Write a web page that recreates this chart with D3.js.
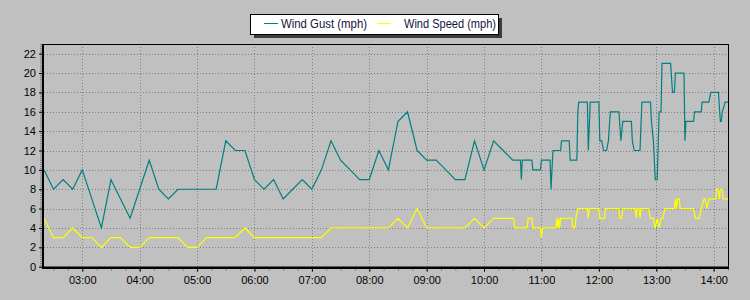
<!DOCTYPE html>
<html>
<head>
<meta charset="utf-8">
<script src="https://cdn.jsdelivr.net/npm/d3@7"></script>
<style>
body { margin:0; background:#c0c0c0; }
svg { display:block; font-family:"Liberation Sans", Arial, sans-serif; }
</style>
</head>
<body>
<div id="chart"></div>
<script>
// readings [time, mph]
var gust = [
	["02:20",10],["02:30",8],["02:40",9],["02:50",8],["03:00",10],["03:10",7],["03:20",4],["03:30",9],
	["03:40",7],["03:50",5],["04:00",8],["04:10",11],["04:20",8],["04:30",7],["04:40",8],["04:50",8],
	["05:00",8],["05:10",8],["05:20",8],["05:30",13],["05:40",12],["05:50",12],["06:00",9],["06:10",8],
	["06:20",9],["06:30",7],["06:40",8],["06:50",9],["07:00",8],["07:10",10],["07:20",13],["07:30",11],
	["07:40",10],["07:50",9],["08:00",9],["08:10",12],["08:20",10],["08:30",15],["08:40",16],["08:50",12],
	["09:00",11],["09:10",11],["09:20",10],["09:30",9],["09:40",9],["09:50",13],["10:00",10],["10:10",13],
	["10:20",12],["10:30",11],["10:38",11],["10:39",9],["10:40",11],["10:50",11],["10:51",10],["10:59",10],
	["11:00",11],["11:09",11],["11:10",8],["11:12",12],["11:20",12],["11:21",13],["11:29",13],["11:30",11],
	["11:37",11],["11:38",16],["11:39",17],["11:48",17],["11:49",12],["11:51",17],["12:00",17],["12:01",13],
	["12:03",13],["12:05",12],["12:08",12],["12:10",13],["12:12",16],["12:21",16],["12:23",13],["12:25",15],
	["12:34",15],["12:35",13],["12:37",12],["12:43",12],["12:45",17],["12:54",17],["12:55",15],["12:57",13],
	["12:59",9],["13:01",9],["13:03",16],["13:05",16],["13:06",21],["13:15",21],["13:17",18],["13:19",18],
	["13:20",20],["13:29",20],["13:30",13],["13:31",15],["13:39",15],["13:40",16],["13:47",16],["13:48",17],
	["13:55",17],["13:57",18],["14:05",18],["14:07",15],["14:08",15],["14:09",16],["14:12",17],["14:15",17]
];
var speed = [
	["02:20",5],["02:30",3],["02:40",3],["02:50",4],["03:00",3],["03:10",3],["03:20",2],["03:30",3],
	["03:40",3],["03:50",2],["04:00",2],["04:10",3],["04:20",3],["04:30",3],["04:40",3],["04:50",2],
	["05:00",2],["05:10",3],["05:20",3],["05:30",3],["05:40",3],["05:50",4],["06:00",3],["06:10",3],
	["06:20",3],["06:30",3],["06:40",3],["06:50",3],["07:00",3],["07:10",3],["07:20",4],["07:30",4],
	["07:40",4],["07:50",4],["08:00",4],["08:10",4],["08:20",4],["08:30",5],["08:40",4],["08:50",6],
	["09:00",4],["09:10",4],["09:20",4],["09:30",4],["09:40",4],["09:50",5],["10:00",4],["10:10",5],
	["10:20",5],["10:30",5],["10:31",5],["10:32",4],["10:45",4],["10:46",5],["10:50",5],["10:51",4],
	["10:59",4],["11:00",3],["11:01",4],["11:15",4],["11:16",5],["11:17",4],["11:18",5],["11:19",4],
	["11:20",5],["11:32",5],["11:33",4],["11:35",4],["11:36",5],["11:38",6],["11:48",6],["11:49",5],
	["11:50",6],["12:00",6],["12:01",5],["12:06",5],["12:07",6],["12:21",6],["12:22",5],["12:24",5],
	["12:25",6],["12:38",6],["12:39",5],["12:40",6],["12:42",6],["12:43",5],["12:44",6],["12:52",6],
	["12:54",5],["12:57",5],["12:59",4],["13:01",5],["13:03",4],["13:05",5],["13:07",5],["13:09",6],
	["13:19",6],["13:20",7],["13:21",6],["13:22",7],["13:24",7],["13:25",6],["13:39",6],["13:41",5],
	["13:45",5],["13:47",6],["13:50",7],["13:51",7],["13:53",6],["13:55",7],["14:02",7],["14:03",8],
	["14:05",8],["14:06",7],["14:07",8],["14:09",8],["14:10",7],["14:15",7]
];
var seriesNames = ["Wind Gust (mph)", "Wind Speed (mph)"];
var yTicks = [0, 2, 4, 6, 8, 10, 12, 14, 16, 18, 20, 22];
var hourTicks = ["03:00","04:00","05:00","06:00","07:00","08:00","09:00","10:00","11:00","12:00","13:00","14:00"];
var timeSpan = ["02:20", "14:15"];
var yMax = 23;

var width = 750, height = 300;
var padding = {top:44, bottom:33.3, left:44, right:22};
var parse = d3.timeParse("%H:%M");

var svg = d3.select("#chart").append("svg").attr("width", width).attr("height", height);
svg.append("rect").attr("width", width).attr("height", height).style("fill", "#c0c0c0");

var x = d3.scaleTime().domain(timeSpan.map(parse)).range([padding.left, width - padding.right]);
var y = d3.scaleLinear().domain([0, yMax]).range([height - padding.bottom, padding.top]);
var x0 = x.range()[0], x1 = x.range()[1], y0 = y.range()[0], y1 = y.range()[1];

// dotted grid
svg.append("g").selectAll("line").data(yTicks.filter(function(d){ return d > 0; })).enter()
	.append("line")
	.attr("x1", x0).attr("x2", x1)
	.attr("y1", function(d){ return Math.round(y(d)) + 0.5; })
	.attr("y2", function(d){ return Math.round(y(d)) + 0.5; })
	.style("stroke", "#808080").style("stroke-dasharray", "1,2");
svg.append("g").selectAll("line").data(hourTicks.map(parse)).enter()
	.append("line")
	.attr("x1", function(d){ return Math.round(x(d)) + 0.5; })
	.attr("x2", function(d){ return Math.round(x(d)) + 0.5; })
	.attr("y1", y1).attr("y2", y0)
	.style("stroke", "#808080").style("stroke-dasharray", "1,2");

// series
var line = d3.line()
	.x(function(d){ return x(parse(d[0])); })
	.y(function(d){ return y(d[1]); });

svg.append("path").datum(gust).attr("d", line)
	.style("fill", "none").style("stroke", "#008080").style("stroke-width", 1.2);
svg.append("path").datum(speed).attr("d", line)
	.style("fill", "none").style("stroke", "#ffff00").style("stroke-width", 1.2);

// minor ticks
var yMinor = d3.axisLeft(y).tickValues(d3.range(0, yMax + 0.01, 0.2)).tickSize(3).tickFormat("");
svg.append("g").attr("class", "minor").attr("transform", "translate(" + (x0 - 1) + ",0)").call(yMinor);
var xMinor = d3.axisBottom(x).ticks(d3.timeMinute.every(15)).tickSize(3).tickFormat("");
svg.append("g").attr("class", "minor").attr("transform", "translate(0," + (y0 + 1) + ")").call(xMinor);
svg.selectAll(".minor line").style("stroke", "#808080");
svg.selectAll(".minor .domain").remove();

// axes
var yAxis = d3.axisLeft(y).tickValues(yTicks).tickSize(4).tickPadding(3).tickSizeOuter(0);
var gy = svg.append("g").attr("transform", "translate(" + (x0 - 1) + ",0)").call(yAxis);
var xAxis = d3.axisBottom(x).tickValues(hourTicks.map(parse)).tickFormat(d3.timeFormat("%H:%M"))
	.tickSize(4).tickPadding(5).tickSizeOuter(0);
var gx = svg.append("g").attr("transform", "translate(0," + (y0 + 1) + ")").call(xAxis);
[gx, gy].forEach(function(g){
	g.select(".domain").remove();
	g.selectAll("text").style("font-size", "11px").style("fill", "#000");
	g.selectAll("line").style("stroke", "#000");
});

// frame
svg.append("line").attr("x1", x0).attr("x2", x1 + 0.5).attr("y1", y1 + 0.5).attr("y2", y1 + 0.5).style("stroke", "#000");
svg.append("line").attr("x1", x1 + 0.5).attr("x2", x1 + 0.5).attr("y1", y1).attr("y2", y0).style("stroke", "#000");
svg.append("line").attr("x1", x0 - 1).attr("x2", x0 - 1).attr("y1", y1).attr("y2", y0 + 1).style("stroke", "#000").style("stroke-width", 2);
svg.append("line").attr("x1", x0 - 2).attr("x2", x1 + 1).attr("y1", y0 + 1).attr("y2", y0 + 1).style("stroke", "#000").style("stroke-width", 2.5);

// legend
var lg = svg.append("g").attr("transform", "translate(250,14)");
lg.append("rect").attr("x", 4).attr("y", 4).attr("width", 248).attr("height", 20).style("fill", "#3c3c3c");
lg.append("rect").attr("x", 0.5).attr("y", 0.5).attr("width", 248).attr("height", 20)
	.style("fill", "#fff").style("stroke", "#000");
var items = [{name: seriesNames[0], color: "#008080", lx: 14, tx: 31, w: 86}, {name: seriesNames[1], color: "#ffff00", lx: 127, tx: 154, w: 92}];
items.forEach(function(it){
	lg.append("line").attr("x1", it.lx).attr("x2", it.lx + 14).attr("y1", 9.5).attr("y2", 9.5)
		.style("stroke", it.color);
	lg.append("text").attr("x", it.tx).attr("y", 14).text(it.name)
		.attr("textLength", it.w).attr("lengthAdjust", "spacingAndGlyphs")
		.style("font-size", "12px").style("fill", "#141440");
});
</script>
</body>
</html>
